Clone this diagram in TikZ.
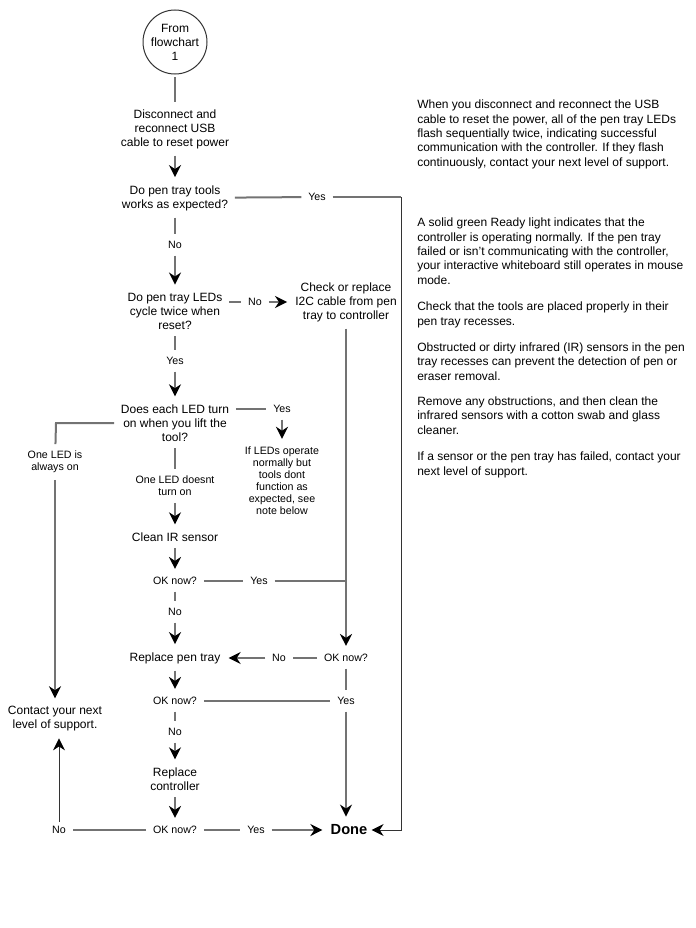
\documentclass[tikz,border=0pt]{standalone}
\usepackage{fontspec}
\setmainfont{Liberation Sans}
\usetikzlibrary{arrows.meta}

\begin{document}
\begin{tikzpicture}[x=0.75pt,y=-0.75pt,
    task/.style={align=center,font=\fontsize{9}{10.5}\selectfont,inner sep=3pt},
    lbl/.style={align=center,font=\fontsize{8}{9}\selectfont,inner sep=3pt},
    start/.style={circle,draw=black!80,line width=0.75pt,minimum size=48pt,inner sep=0pt,align=center,font=\fontsize{9}{10.5}\selectfont},
    sidenote/.style={align=left,anchor=base west,inner sep=0pt,font=\fontsize{9}{10.7}\selectfont},
    link/.style={draw=black!55,line width=1.5pt,shorten <=2pt,shorten >=2pt},
    flow/.style={link,shorten >=3pt,-{Stealth[black,length=9pt,width=9pt]}},
    thin/.style={draw=black!80,line width=0.75pt},
    thinflow/.style={thin,-{Stealth[black,length=9pt,width=9pt]}}]
    \useasboundingbox (0,0) rectangle (696,928);

    % main column
    \node[start] (from) at (175,42) {From\\flowchart\\1};
    \node[task] (reset) at (175,129) {Disconnect and\\reconnect USB\\cable to reset power};
    \node[task] (tools) at (175,198) {Do pen tray tools\\works as expected?};
    \node[lbl] (no1) at (175,245) {No};
    \node[task] (leds) at (175,311) {Do pen tray LEDs\\cycle twice when\\reset?};
    \node[lbl] (yes2) at (175,361) {Yes};
    \node[task] (each) at (175,423) {Does each LED turn\\on when you lift the\\tool?};
    \node[lbl] (oneoff) at (175,486) {One LED doesnt\\turn on};
    \node[task] (clean) at (175,537) {Clean IR sensor};
    \node[lbl] (ok1) at (175,581) {OK now?};
    \node[lbl] (no3) at (175,612) {No};
    \node[task] (tray) at (175,658) {Replace pen tray};
    \node[lbl] (ok3) at (175,701) {OK now?};
    \node[lbl] (no5) at (175,732) {No};
    \node[task] (ctrl) at (175,779) {Replace\\controller};
    \node[lbl] (ok4) at (175,830) {OK now?};

    % right column
    \node[lbl] (yes1) at (317,197) {Yes};
    \node[lbl] (no2) at (255,302) {No};
    \node[task] (cable) at (346,302) {Check or replace\\I2C cable from pen\\tray to controller};
    \node[lbl] (yes3) at (282,409) {Yes};
    \node[lbl] (note) at (282,481) {If LEDs operate\\normally but\\tools dont\\function as\\expected, see\\note below};
    \node[lbl] (yes4) at (259,581) {Yes};
    \node[lbl] (no4) at (279,658) {No};
    \node[lbl] (ok2) at (346,658) {OK now?};
    \node[lbl] (yes5) at (346,701) {Yes};
    \node[lbl] (yes6) at (256,830) {Yes};
    \node[task,font=\fontsize{11}{12}\selectfont\bfseries] (done) at (349,830) {Done};

    % left column
    \node[lbl] (oneon) at (55,462) {One LED is\\always on};
    \node[task] (support) at (55,719) {Contact your next\\level of support.};
    \node[lbl] (no6) at (59,830) {No};

    \coordinate (j1) at (401,197);
    \coordinate (j2) at (401,830);
    \coordinate (j3) at (56,423);

    % connectors
    \draw[link] (from) -- (reset.north);
    \draw[flow] (reset) -- (tools);
    \draw[link] (tools) -- (yes1);
    \draw[link,shorten >=0pt] (yes1) -- (j1);
    \draw[thinflow] (j1) -- (j2) -- (done);
    \draw[link] (tools) -- (no1);
    \draw[flow] (no1) -- (leds);
    \draw[link] (leds.east |- no2) -- (no2);
    \draw[flow] (no2) -- (cable.west |- no2);
    \draw[flow] (cable) -- (ok2);
    \draw[link] (leds) -- (yes2);
    \draw[flow] (yes2) -- (each);
    \draw[link] (each.east |- yes3) -- (yes3);
    \draw[flow] (yes3) -- (note);
    \draw[link] (each.west) -- (j3) -- (oneon);
    \draw[flow] (oneon) -- (support);
    \draw[link] (each) -- (oneoff);
    \draw[flow] (oneoff) -- (clean);
    \draw[flow] (clean) -- (ok1);
    \draw[link] (ok1) -- (yes4);
    \draw[link,shorten >=0pt] (yes4) -- (yes4 -| ok2);
    \draw[link] (ok1) -- (no3);
    \draw[flow] (no3) -- (tray);
    \draw[link] (ok2) -- (no4);
    \draw[flow] (no4) -- (tray);
    \draw[flow] (tray) -- (ok3);
    \draw[link] (ok3) -- (yes5);
    \draw[link] (ok2) -- (yes5);
    \draw[flow] (yes5) -- (yes5 |- done.north);
    \draw[link] (ok3) -- (no5);
    \draw[flow] (no5) -- (ctrl);
    \draw[flow] (ctrl) -- (ok4);
    \draw[link] (ok4) -- (yes6);
    \draw[flow] (yes6) -- (done);
    \draw[link] (ok4) -- (no6);
    \draw[thinflow,shorten >=2pt] (no6) -- (no6 |- support.south);

    % notes on the right (placed at the baseline of their last line)
    \node[sidenote] (usbnote) at (417,166) {When you disconnect and reconnect the USB\\cable to reset the power, all of the pen tray LEDs\\flash sequentially twice, indicating successful\\communication with the controller. If they flash\\continuously, contact your next level of support.};
    \node[sidenote] (readynote) at (417,284) {A solid green Ready light indicates that the\\controller is operating normally. If the pen tray\\failed or isn’t communicating with the controller,\\your interactive whiteboard still operates in mouse\\mode.};
    \node[sidenote] (placenote) at (417,325) {Check that the tools are placed properly in their\\pen tray recesses.};
    \node[sidenote] (irnote) at (417,380) {Obstructed or dirty infrared (IR) sensors in the pen\\tray recesses can prevent the detection of pen or\\eraser removal.};
    \node[sidenote] (cleannote) at (417,434) {Remove any obstructions, and then clean the\\infrared sensors with a cotton swab and glass\\cleaner.};
    \node[sidenote] (failnote) at (417,475) {If a sensor or the pen tray has failed, contact your\\next level of support.};
\end{tikzpicture}
\end{document}
